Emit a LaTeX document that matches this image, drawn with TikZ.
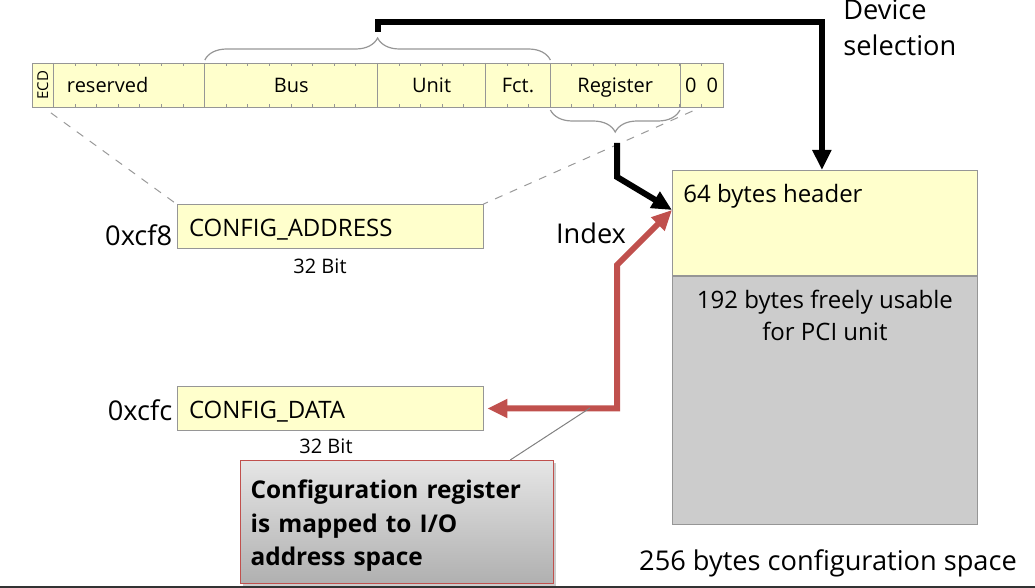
\documentclass[tikz,border=0pt]{standalone}
\usepackage{fontspec}
\setmainfont{Open Sans}
\usepackage{tikz}
\usetikzlibrary{arrows.meta,positioning,calc,decorations.pathreplacing,shadows}
\definecolor{regyellow}{RGB}{255,255,204}
\definecolor{regframe}{RGB}{150,150,150}
\definecolor{spacegray}{RGB}{204,204,204}
\definecolor{ioarrow}{RGB}{192,80,77}

\begin{document}
\begin{tikzpicture}[x=0.5pt,y=-0.5pt,
  field/.style={draw=regframe,fill=regyellow,minimum height=22pt,inner sep=0pt,outer sep=0pt,
    anchor=west,text height=9.5pt,text depth=2pt,font=\fontsize{10}{12}\selectfont},
  bittick/.style={draw=regframe,line width=0.5pt},
  regbox/.style={draw=regframe,fill=regyellow,minimum width=153pt,minimum height=22pt,
    inner xsep=6pt,text width=141pt,align=left,text height=12pt,text depth=2pt,
    font=\fontsize{12}{14}\selectfont},
  bigtxt/.style={font=\fontsize{13.6}{18}\selectfont,inner sep=0pt},
  smalltxt/.style={font=\fontsize{10}{12}\selectfont,inner sep=0pt},
  fieldbrace/.style={draw=regframe,line width=0.6pt,decorate,
    decoration={brace,amplitude=11pt}},
  guide/.style={draw=gray!80,dash pattern=on 4pt off 4pt,line width=0.5pt,shorten <=5pt},
  selarrow/.style={draw=black,line width=3pt,-{Triangle[length=10pt,width=9pt]}},
  ioline/.style={draw=ioarrow,line width=3pt,
    {Triangle[length=10pt,width=9pt]}-{Triangle[length=10pt,width=9pt]}},
  callout/.style={draw=ioarrow,line width=0.6pt,top color=gray!20,bottom color=gray!62,
    drop shadow={shadow xshift=1.2pt,shadow yshift=-1.2pt,opacity=0.4},
    minimum width=156.5pt,minimum height=61.5pt,inner xsep=5pt,text width=146.5pt,
    align=left,font=\fontsize{12.2}{16.75}\selectfont\bfseries}
]
\useasboundingbox (0,0) rectangle (1035,588);

% address register bits
\node[field,minimum width=10.8pt] (ecd) at (32,85) {};
\node[rotate=90,font=\fontsize{7.5}{8}\selectfont,inner sep=0pt] at (ecd) {ECD};
\node[field,minimum width=75.6pt,text width=62.2pt,inner xsep=6.7pt,align=left,
  right=0pt of ecd] (resv) {reserved};
\node[field,minimum width=86.4pt,right=0pt of resv] (bus) {Bus};
\node[field,minimum width=54pt,right=0pt of bus] (unit) {Unit};
\node[field,minimum width=32.4pt,right=0pt of unit] (fct) {Fct.};
\node[field,minimum width=64.8pt,right=0pt of fct] (reg) {Register};
\node[field,minimum width=21.6pt,right=0pt of reg] (zeros) {0\hspace{5.1pt}0};
\foreach \i in {1,...,31} {
  \draw[bittick] (32+\i*21.594,63) -- ++(0,3);
  \draw[bittick] (32+\i*21.594,107) -- ++(0,-3);
}

% braces
\draw[fieldbrace] ([yshift=1.5pt]bus.north west) -- ([yshift=1.5pt]fct.north east);
\draw[fieldbrace] ([yshift=-1.5pt]reg.south east) -- ([yshift=-1.5pt]reg.south west);
\coordinate (sel) at (378,32);
\coordinate (idx) at (617,143);

% I/O ports
\node[regbox] (cfgaddr) at (330,226.5) {CONFIG\_ADDRESS};
\node[regbox] (cfgdata) at (330,408.5) {CONFIG\_DATA};
\node[bigtxt,anchor=base east] at ($(cfgaddr.south west)+(-4,-3)$) {0xcf8};
\node[bigtxt,anchor=base east] at ($(cfgdata.south west)+(-4,-10)$) {0xcfc};
\node[smalltxt] (addrbits) at (320,266) {32 Bit};
\node[smalltxt] (databits) at (326,446) {32 Bit};

\draw[guide] (ecd.south) -- (cfgaddr.north west);
\draw[guide] (zeros.south) -- (cfgaddr.north east);

% configuration space
\node[draw=regframe,fill=regyellow,minimum width=152.5pt,minimum height=52.5pt,
  anchor=north west] (header) at (672,170) {};
\node[draw=regframe,fill=spacegray,minimum width=152.5pt,minimum height=124pt,
  anchor=north] (rest) at (header.south) {};
\node[anchor=base west,font=\fontsize{12}{14}\selectfont,inner sep=0pt]
  at ($(header.north west)+(11,33)$) {64 bytes header};
\node[anchor=north,align=center,font=\fontsize{12}{16}\selectfont,inner sep=0pt]
  at ($(rest.north)+(0,14)$) {192 bytes freely usable\\for PCI unit};
\node[bigtxt] (spacecap) at (828,563) {256 bytes configuration space};
\node[bigtxt,anchor=base west,align=left] (devsel) at (843,56) {Device\\selection};
\node[bigtxt] (idxtxt) at (591,233) {Index};

\coordinate (hdrin) at ($(header.north west)+(0,40)$);
\draw[selarrow] (sel) -- (378,22) -| ([xshift=-1.5pt]header.north);
\draw[selarrow] (idx) -- (617,177) -- (hdrin);
\draw[ioline,shorten <=2pt] (cfgdata.east) -- (617,408.5) -- (617,265) -- (hdrin);

% note
\node[callout,anchor=north west] (note) at (240,460)
  {\rule{0pt}{13pt}Configuration register\\is mapped to I/O\\address space};
\coordinate (ptr) at (590,408);
\draw[gray,line width=0.5pt] ($(note.north west)!0.86!(note.north east)$) -- (ptr);

\draw[black!80,line width=1pt] (0,587) -- (1035,587);
\end{tikzpicture}
\end{document}
